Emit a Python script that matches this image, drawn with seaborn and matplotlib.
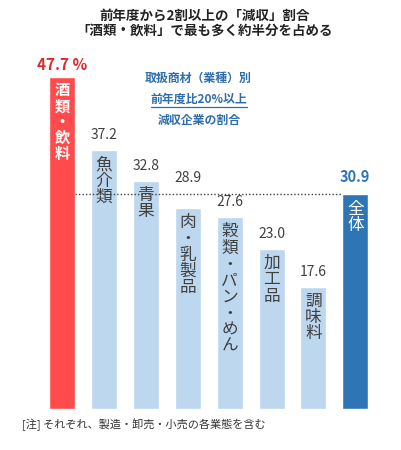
import matplotlib
matplotlib.use("Agg")
import matplotlib.pyplot as plt
import seaborn as sns
import pandas as pd
from matplotlib.lines import Line2D

# Data
categories = ["酒類・飲料", "魚介類", "青果", "肉・乳製品", "穀類・パン・めん", "加工品", "調味料", "全体"]
values = [47.7, 37.2, 32.8, 28.9, 27.6, 23.0, 17.6, 30.9]
value_labels = ["47.7 %", "37.2", "32.8", "28.9", "27.6", "23.0", "17.6", "30.9"]
total = 30.9

colors = ["#ff4b4b"] + ["#bdd7ee"] * 6 + ["#2e75b6"]

sns.set_style("white")
plt.rcParams['font.family'] = ['Noto Sans CJK JP', 'DejaVu Sans']

df = pd.DataFrame({"cat": categories, "val": values})

fig = plt.figure(figsize=(4.01, 4.5), dpi=100)
ax = fig.add_axes([0, 41 / 450, 1, 409 / 450])
sns.barplot(data=df, x="cat", y="val", hue="cat", palette=colors, legend=False,
            width=0.62, saturation=1, ax=ax)
ax.set_xlim(-1.48, 8.09)
ax.set_ylim(0, 58.8)
ax.axis("off")

# average line
ax.hlines(total, 0.31, 6.69, colors="#404040", linestyles=(0, (1, 1.5)), linewidth=1.0)

# labels
for i, (cat, v, lab) in enumerate(zip(categories, values, value_labels)):
    vert = "\n".join(list(cat))
    if i == 0:
        ax.annotate(lab, (i, v), xytext=(0, 12), textcoords="offset pixels",
                    ha="center", va="center", fontsize=11, fontweight="bold", color="#e0282e")
        ax.annotate(vert, (i, v), xytext=(0, -5), textcoords="offset pixels",
                    ha="center", va="top", fontsize=11, fontweight="bold", color="white",
                    linespacing=1.0)
    elif i == len(categories) - 1:
        ax.annotate(lab, (i, v), xytext=(0, 17), textcoords="offset pixels",
                    ha="center", va="center", fontsize=10.5, fontweight="bold", color="#2e75b6")
        ax.annotate(vert, (i, v), xytext=(0, -7), textcoords="offset pixels",
                    ha="center", va="top", fontsize=12, color="white", linespacing=0.95)
    else:
        # 28.9 sits just under the dotted line, so its label goes above it
        off = 30 if i == 3 else 15
        ax.annotate(lab, (i, v), xytext=(0, off), textcoords="offset pixels",
                    ha="center", va="center", fontsize=10, color="#404040")
        ax.annotate(vert, (i, v), xytext=(0, -6), textcoords="offset pixels",
                    ha="center", va="top", fontsize=12, color="#404040", linespacing=0.95)

# title
fig.text(0.51, 1 - 16 / 450, "前年度から2割以上の「減収」割合", ha="center", va="center",
         fontsize=9.7, fontweight="bold", color="#222222")
fig.text(0.51, 1 - 31 / 450, "「酒類・飲料」で最も多く約半分を占める", ha="center", va="center",
         fontsize=9.7, fontweight="bold", color="#222222")

# blue annotation
blue = "#2f6eac"
fig.text(198 / 401, 1 - 78 / 450, "取扱商材（業種）別", ha="center", va="center",
         fontsize=8.6, fontweight="bold", color=blue)
mid = fig.text(199 / 401, 1 - 99 / 450, "前年度比20%以上", ha="center", va="center",
               fontsize=8.6, fontweight="bold", color=blue)
fig.text(199 / 401, 1 - 120 / 450, "減収企業の割合", ha="center", va="center",
         fontsize=8.6, fontweight="bold", color=blue)

fig.canvas.draw()
bb = mid.get_window_extent().transformed(fig.transFigure.inverted())
fig.add_artist(Line2D([bb.x0, bb.x1], [bb.y0 - 1 / 450, bb.y0 - 1 / 450],
                      color=blue, linewidth=0.9, transform=fig.transFigure))

# footnote
fig.text(22 / 401, 1 - 425 / 450, "[注] それぞれ、製造・卸売・小売の各業態を含む", ha="left", va="center",
         fontsize=8, color="#333333")

fig.savefig("out.png", dpi=100)
